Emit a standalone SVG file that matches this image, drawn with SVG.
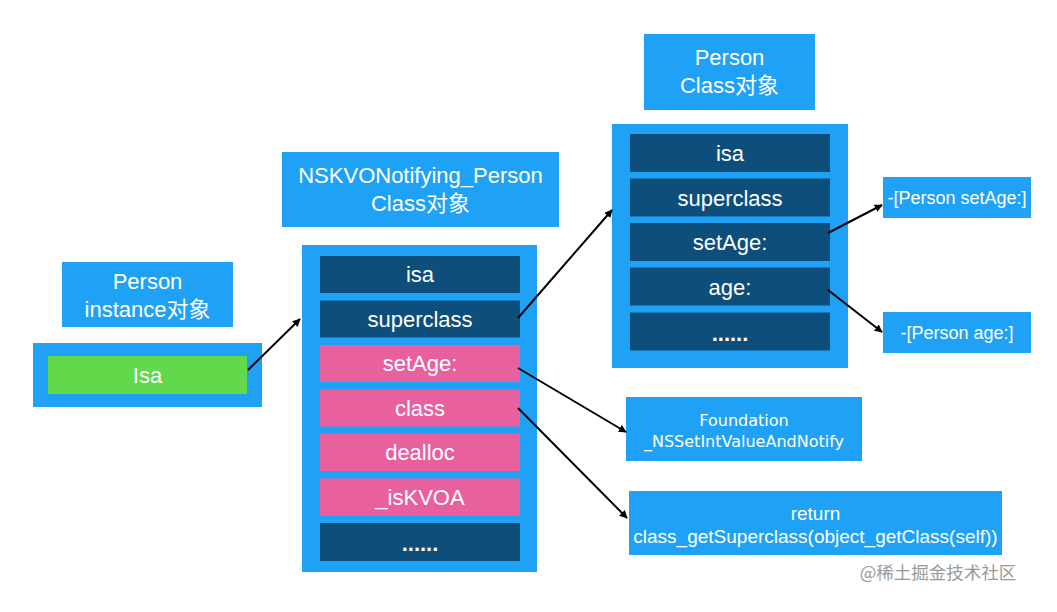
<svg xmlns="http://www.w3.org/2000/svg" width="1057" height="612" viewBox="0 0 1057 612">
<defs>
<marker id="arr" viewBox="0 0 10 10" refX="9" refY="5" markerWidth="8" markerHeight="8" markerUnits="userSpaceOnUse" orient="auto"><path d="M0,0 L10,5 L0,10 z" fill="#000"/></marker>
<style>
.bl{fill:#1FA2F6}
.dk{fill:#0D4E7B}
.pk{fill:#E9609F}
.gr{fill:#62D94B}
text{font-family:"Liberation Sans",Arial,"Noto Sans CJK SC",sans-serif;fill:#fff;text-anchor:middle}
.t22{font-size:22px}
.t18{font-size:18px}
.t19{font-size:19px}
.v{font-family:"DejaVu Sans",Verdana,sans-serif;font-size:16px}
.c{stroke:#000;stroke-width:2;fill:none;marker-end:url(#arr)}
</style>
</defs>
<rect width="1057" height="612" fill="#fff"/>
<g id="person-instance-label">
<rect class="bl" x="62" y="262" width="171" height="65"/>
<text class="t22" x="147.5" y="289">Person</text>
<text class="t22" x="147.5" y="317">instance对象</text>
</g>
<g id="person-instance">
<rect class="bl" x="33" y="343" width="229" height="64"/>
<rect class="gr" x="48" y="356" width="199" height="38"/>
<text class="t22" x="147.5" y="383">Isa</text>
</g>
<g id="kvo-label">
<rect class="bl" x="282" y="152" width="277" height="75"/>
<text class="t22" x="420.5" y="183">NSKVONotifying_Person</text>
<text class="t22" x="420.5" y="211">Class对象</text>
</g>
<g id="kvo-class">
<rect class="bl" x="302" y="245" width="235" height="327"/>
<rect class="dk" x="320" y="256" width="200" height="37"/>
<text class="t22" x="420" y="282">isa</text>
<rect class="dk" x="320" y="300.5" width="200" height="37"/>
<text class="t22" x="420" y="327">superclass</text>
<rect class="pk" x="320" y="345" width="200" height="37"/>
<text class="t22" x="420" y="371">setAge:</text>
<rect class="pk" x="320" y="389.5" width="200" height="37"/>
<text class="t22" x="420" y="416">class</text>
<rect class="pk" x="320" y="434" width="200" height="37"/>
<text class="t22" x="420" y="460">dealloc</text>
<rect class="pk" x="320" y="478.5" width="200" height="37"/>
<text class="t22" x="420" y="505">_isKVOA</text>
<rect class="dk" x="320" y="523" width="200" height="38"/>
<text class="t22" x="420" y="551" font-weight="bold">......</text>
</g>
<g id="person-class-label">
<rect class="bl" x="644" y="34" width="171" height="76"/>
<text class="t22" x="729.5" y="65">Person</text>
<text class="t22" x="729.5" y="93">Class对象</text>
</g>
<g id="person-class">
<rect class="bl" x="612" y="124" width="236" height="244"/>
<rect class="dk" x="630" y="134" width="200" height="38"/>
<text class="t22" x="730" y="161">isa</text>
<rect class="dk" x="630" y="178.5" width="200" height="38"/>
<text class="t22" x="730" y="206">superclass</text>
<rect class="dk" x="630" y="223" width="200" height="38"/>
<text class="t22" x="730" y="250">setAge:</text>
<rect class="dk" x="630" y="267.5" width="200" height="38"/>
<text class="t22" x="730" y="295">age:</text>
<rect class="dk" x="630" y="312.5" width="200" height="38"/>
<text class="t22" x="730" y="341" font-weight="bold">......</text>
</g>
<g id="person-setage">
<rect class="bl" x="883" y="177" width="148" height="41"/>
<text class="t18" x="957" y="204">-[Person setAge:]</text>
</g>
<g id="person-age">
<rect class="bl" x="883" y="312" width="148" height="41"/>
<text class="t18" x="957" y="339">-[Person age:]</text>
</g>
<g id="foundation">
<rect class="bl" x="626" y="397" width="236" height="64"/>
<text class="v" x="744" y="426">Foundation</text>
<text class="v" x="744" y="447">_NSSetIntValueAndNotify</text>
</g>
<g id="return-box">
<rect class="bl" x="629" y="491" width="373" height="64"/>
<text class="t19" x="815.5" y="520">return</text>
<text class="t19" x="815.5" y="543">class_getSuperclass(object_getClass(self))</text>
</g>
<g id="connectors">
<line class="c" x1="248" y1="370" x2="300" y2="319"/>
<line class="c" x1="518" y1="318" x2="612" y2="210"/>
<line class="c" x1="828" y1="233" x2="882" y2="205"/>
<line class="c" x1="828" y1="290" x2="882" y2="332"/>
<line class="c" x1="518" y1="368" x2="626" y2="432"/>
<line class="c" x1="518" y1="408" x2="627" y2="518"/>
</g>
<text x="938" y="579" style="fill:#9a9a9a;font-size:17.5px;font-family:'Noto Sans CJK SC',sans-serif">@稀土掘金技术社区</text>
</svg>
